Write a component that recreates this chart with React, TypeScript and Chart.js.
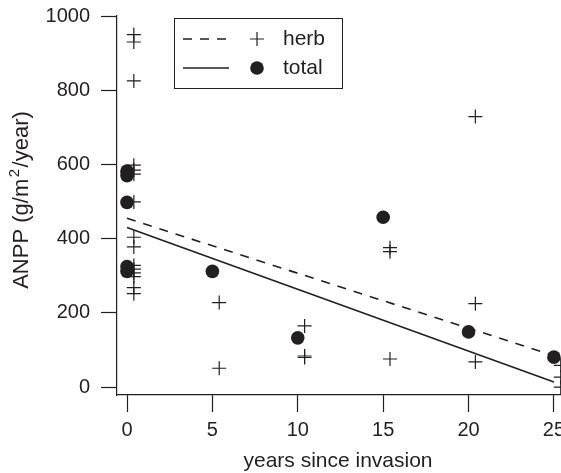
import React, { useEffect, useRef } from "react";
import { Chart, registerables } from "chart.js";

Chart.register(...registerables);

// ---- data ----
const totalYears = [0, 0, 0, 0, 0, 5, 10, 15, 20, 25];
const totalAnpp = [582, 570, 498, 325, 312, 312, 133, 458, 149, 81];

const herbYears = [
  0.4, 0.4, 0.4, 0.4, 0.4, 0.4, 0.4, 0.4, 0.4, 0.4, 0.4, 0.4, 0.4, 0.4, 0.4,
  5.4, 5.4,
  10.4, 10.4, 10.4,
  15.4, 15.4, 15.4,
  20.4, 20.4, 20.4,
  25.4, 25.4, 25.4,
];
const herbAnpp = [
  950, 930, 825, 598, 585, 574, 499, 404, 378, 328, 318, 308, 298, 268, 252,
  228, 51,
  165, 84, 80,
  376, 365, 76,
  729, 225, 68,
  59, 27, 0,
];

const fitYears = [0, 25];
const herbFit = [455, 85];
const totalFit = [430, 14];

const xTicks = [0, 5, 10, 15, 20, 25];
const yTicks = [0, 200, 400, 600, 800, 1000];

const legendLabels = ["herb", "total"];
const xTitle = "years since invasion";
const yTitleParts = ["ANPP (g/m", "2", "/year)"];

const INK = "#231f20";
const FONT = "'Liberation Sans', Arial, Helvetica, sans-serif";

export default function App() {
  const ref = useRef<HTMLCanvasElement>(null);

  useEffect(() => {
    const canvas = ref.current;
    if (!canvas) return;

    const overlay = {
      id: "overlay",
      afterDraw(chart: any) {
        const ctx = chart.ctx;
        ctx.save();
        ctx.fillStyle = INK;
        ctx.strokeStyle = INK;
        // x axis title
        ctx.font = `21px ${FONT}`;
        ctx.textAlign = "center";
        ctx.textBaseline = "alphabetic";
        ctx.fillText(xTitle, 338, 467);

        // y axis title with superscript
        const big = `22px ${FONT}`;
        const small = `15px ${FONT}`;
        ctx.font = big;
        const w0 = ctx.measureText(yTitleParts[0]).width;
        const w2 = ctx.measureText(yTitleParts[2]).width;
        ctx.font = small;
        const w1 = ctx.measureText(yTitleParts[1]).width;
        const gap = 1.5;
        const total = w0 + gap + w1 + gap + w2;
        ctx.save();
        ctx.translate(28, 200);
        ctx.rotate(-Math.PI / 2);
        ctx.textAlign = "left";
        let x = -total / 2;
        ctx.font = big;
        ctx.fillText(yTitleParts[0], x, 0);
        x += w0 + gap;
        ctx.font = small;
        ctx.fillText(yTitleParts[1], x, -9);
        x += w1 + gap;
        ctx.font = big;
        ctx.fillText(yTitleParts[2], x, 0);
        ctx.restore();

        // legend
        ctx.lineWidth = 1;
        ctx.strokeRect(174.5, 18.5, 168, 70);
        const rows = [39, 68];
        ctx.lineWidth = 1.6;
        ctx.setLineDash([9, 8]);
        ctx.beginPath();
        ctx.moveTo(183, rows[0]);
        ctx.lineTo(229, rows[0]);
        ctx.stroke();
        ctx.setLineDash([]);
        ctx.beginPath();
        ctx.moveTo(183, rows[1]);
        ctx.lineTo(229, rows[1]);
        ctx.stroke();
        ctx.lineWidth = 1.2;
        ctx.beginPath();
        ctx.moveTo(257 - 7, rows[0]);
        ctx.lineTo(257 + 7, rows[0]);
        ctx.moveTo(257, rows[0] - 7);
        ctx.lineTo(257, rows[0] + 7);
        ctx.stroke();
        ctx.beginPath();
        ctx.arc(257, rows[1], 6.8, 0, Math.PI * 2);
        ctx.fill();
        ctx.font = `21px ${FONT}`;
        ctx.textAlign = "left";
        ctx.textBaseline = "middle";
        ctx.fillText(legendLabels[0], 283, rows[0]);
        ctx.fillText(legendLabels[1], 283, rows[1]);
        ctx.restore();
      },
    };

    const chart = new Chart(canvas, {
      type: "scatter",
      data: {
        datasets: [
          {
            label: "herb fit",
            data: fitYears.map((x, i) => ({ x, y: herbFit[i] })),
            showLine: true,
            borderColor: INK,
            borderWidth: 1.6,
            borderDash: [9, 8],
            pointRadius: 0,
          },
          {
            label: "total fit",
            data: fitYears.map((x, i) => ({ x, y: totalFit[i] })),
            showLine: true,
            borderColor: INK,
            borderWidth: 1.6,
            pointRadius: 0,
          },
          {
            label: legendLabels[0],
            data: herbYears.map((x, i) => ({ x, y: herbAnpp[i] })),
            pointStyle: "cross",
            pointRadius: 7,
            borderColor: INK,
            borderWidth: 1.2,
            backgroundColor: INK,
          },
          {
            label: legendLabels[1],
            data: totalYears.map((x, i) => ({ x, y: totalAnpp[i] })),
            pointStyle: "circle",
            pointRadius: 6.8,
            borderWidth: 0,
            backgroundColor: INK,
            borderColor: INK,
          },
        ],
      },
      options: {
        responsive: false,
        animation: false,
        events: [],
        layout: {
          autoPadding: false,
          padding: { top: 16, left: 0, right: 0, bottom: 0 },
        },
        plugins: {
          legend: { display: false },
          tooltip: { enabled: false },
          title: { display: false },
        },
        scales: {
          x: {
            type: "linear",
            min: -0.586,
            max: 26,
            afterFit: (s: any) => {
              s.height = 78;
              s.paddingLeft = 0;
              s.paddingRight = 0;
            },
            afterBuildTicks: (s: any) => {
              s.ticks = xTicks.map((v) => ({ value: v }));
            },
            border: { display: true, color: INK, width: 1.2 },
            grid: {
              display: true,
              drawOnChartArea: false,
              drawTicks: true,
              tickLength: 17,
              tickColor: INK,
              tickWidth: 1.2,
            },
            ticks: {
              autoSkip: false,
              maxRotation: 0,
              padding: 6,
              color: INK,
              font: { family: FONT, size: 20 },
              callback: (v: any) => String(v),
            },
          },
          y: {
            type: "linear",
            min: -21,
            max: 1000,
            afterFit: (s: any) => {
              s.width = 117;
              s.paddingTop = 0;
              s.paddingBottom = 0;
            },
            afterBuildTicks: (s: any) => {
              s.ticks = yTicks.map((v) => ({ value: v }));
            },
            border: { display: true, color: INK, width: 1.2 },
            grid: {
              display: true,
              drawOnChartArea: false,
              drawTicks: true,
              tickLength: 16,
              tickColor: INK,
              tickWidth: 1.2,
            },
            ticks: {
              autoSkip: false,
              padding: 11,
              color: INK,
              font: { family: FONT, size: 20 },
              callback: (v: any) => String(v),
            },
          },
        },
      },
      plugins: [overlay],
    });

    return () => chart.destroy();
  }, []);

  return (
    <div
      style={{
        position: "fixed",
        left: 0,
        top: 0,
        width: 571,
        height: 473,
        background: "#ffffff",
      }}
    >
      <canvas ref={ref} width={571} height={473} style={{ display: "block" }} />
    </div>
  );
}
